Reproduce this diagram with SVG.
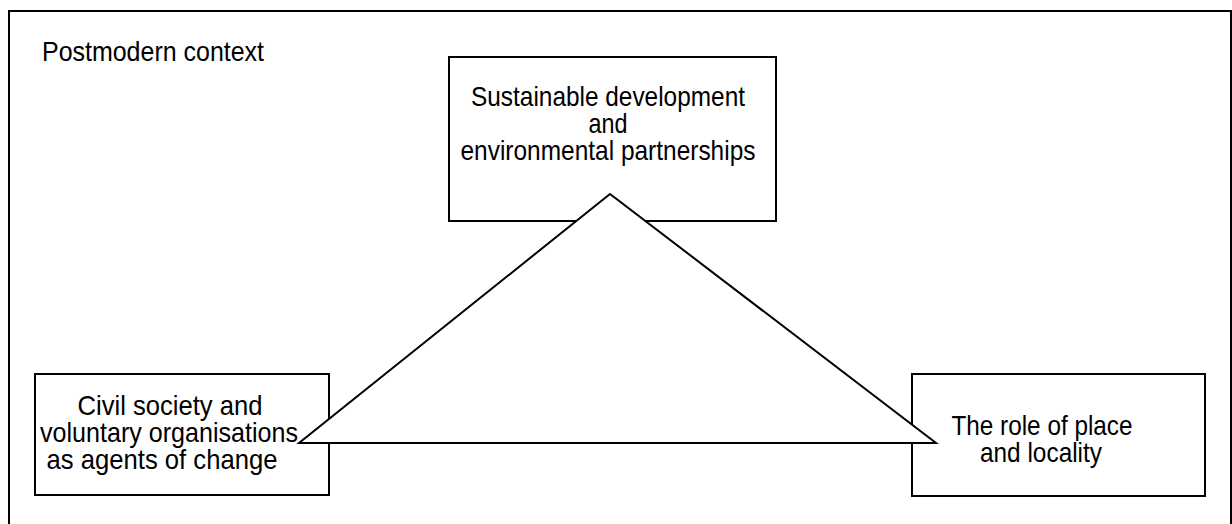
<svg xmlns="http://www.w3.org/2000/svg" width="1232" height="524" viewBox="0 0 1232 524">
<style>
.box{fill:#fff;stroke:#000;stroke-width:2}
.t{font-family:"Liberation Sans",Arial,sans-serif;font-size:28px;fill:#000;text-anchor:middle}
.tl{font-family:"Liberation Sans",Arial,sans-serif;font-size:28px;fill:#000}
</style>
<rect x="0" y="0" width="1232" height="524" fill="#fff"/>
<g id="frame">
<path d="M9,540 L9,11 L1231,11 L1231,540" fill="none" stroke="#000" stroke-width="2"/>
<text class="tl" x="42" y="61" textLength="222" lengthAdjust="spacingAndGlyphs">Postmodern context</text>
</g>
<g id="node-top">
<rect class="box" x="449" y="57" width="327" height="164"/>
<text class="t"><tspan x="608" y="106" textLength="274" lengthAdjust="spacingAndGlyphs">Sustainable development</tspan><tspan x="608" y="133" textLength="39" lengthAdjust="spacingAndGlyphs">and</tspan><tspan x="608" y="160" textLength="295" lengthAdjust="spacingAndGlyphs">environmental partnerships</tspan></text>
</g>
<g id="node-left">
<rect class="box" x="35" y="374" width="294" height="121"/>
<text class="t"><tspan x="170" y="415" textLength="185" lengthAdjust="spacingAndGlyphs">Civil society and</tspan><tspan x="169" y="442" textLength="258" lengthAdjust="spacingAndGlyphs">voluntary organisations</tspan><tspan x="162" y="469" textLength="231" lengthAdjust="spacingAndGlyphs">as agents of change</tspan></text>
</g>
<g id="node-right">
<rect class="box" x="912" y="374" width="293" height="122"/>
<text class="t"><tspan x="1042" y="435" textLength="181" lengthAdjust="spacingAndGlyphs">The role of place</tspan><tspan x="1041" y="462" textLength="122" lengthAdjust="spacingAndGlyphs">and locality</tspan></text>
</g>
<g id="connectors">
<polygon points="610,194 299,443 936,443" fill="#fff" stroke="#000" stroke-width="2" stroke-linejoin="miter"/>
</g>
</svg>
